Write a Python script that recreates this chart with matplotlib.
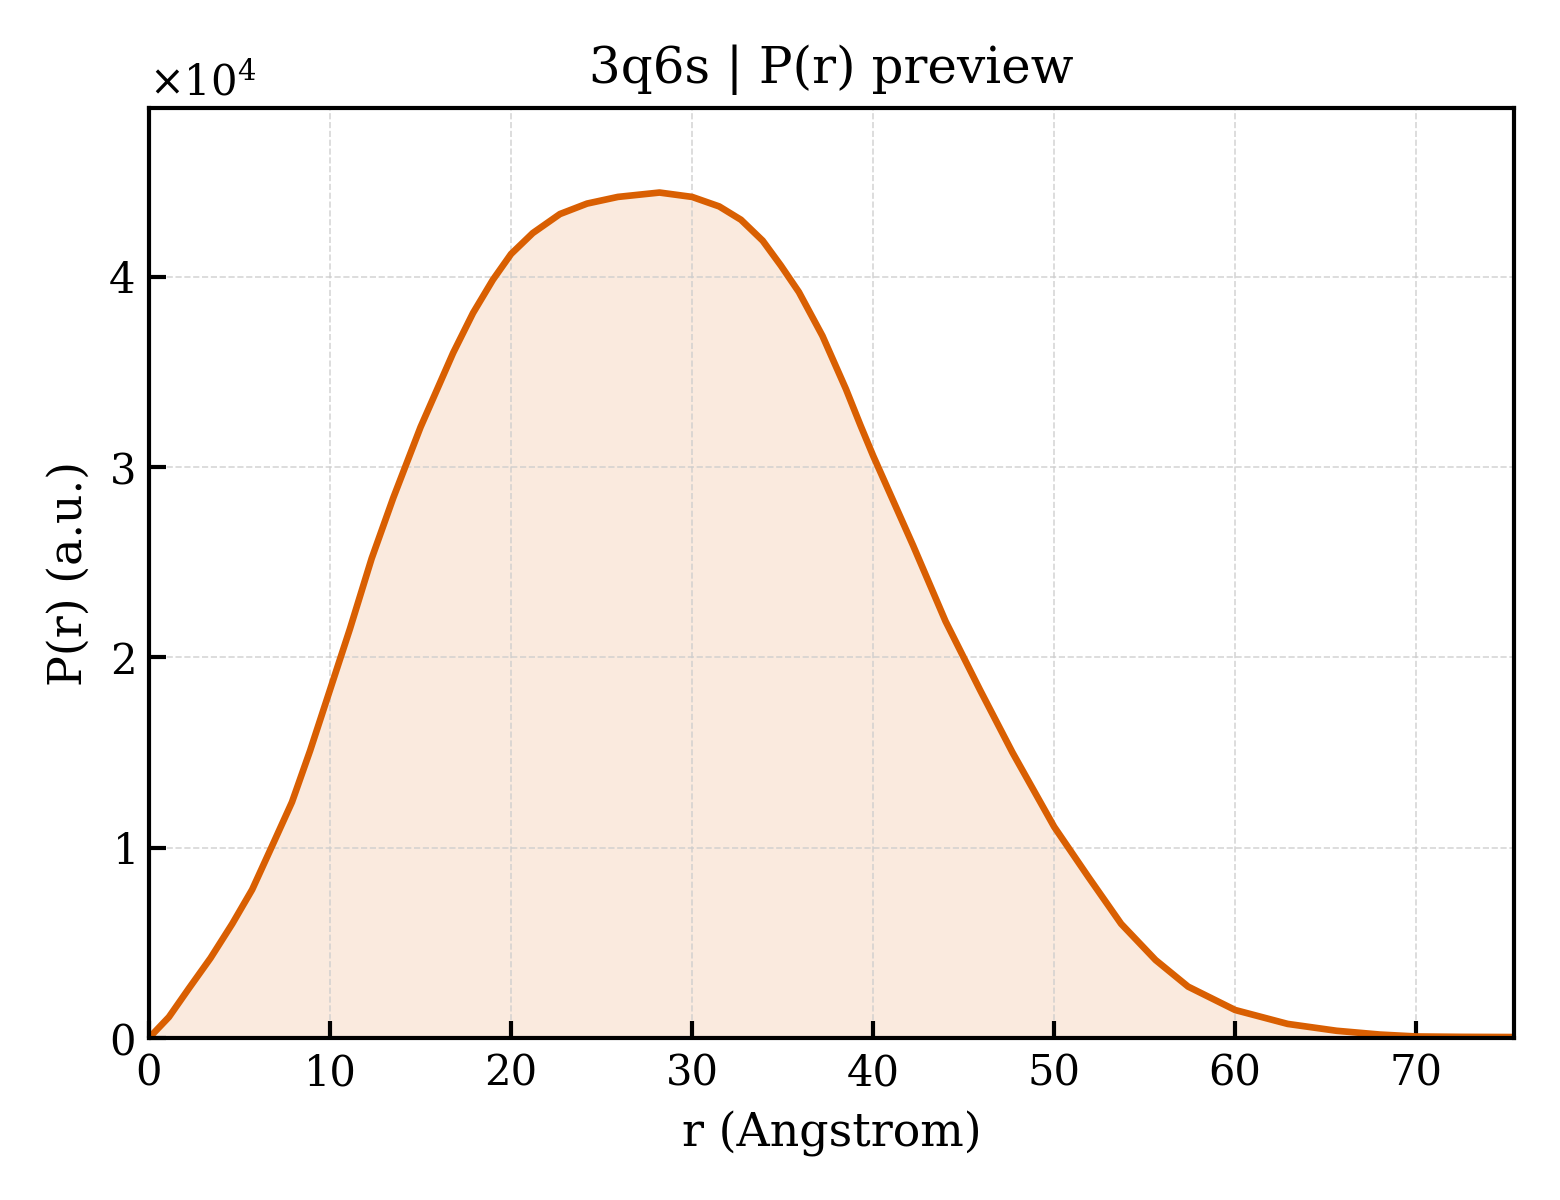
import matplotlib
matplotlib.use("Agg")
import matplotlib.pyplot as plt

# values (P in units of 1e4)
r_vals = [0, 1.1, 2.2, 3.4, 4.6, 5.7, 6.9, 7.9, 8.9, 10.0, 11.1, 12.3, 13.5,
          15.0, 16.8, 17.9, 19.0, 20.0, 21.2, 22.7, 24.2, 25.9, 28.2, 30.0,
          31.5, 32.7, 33.9, 34.9, 35.9, 37.2, 38.5, 39.3, 40.0, 42.2, 44.0,
          45.9, 47.7, 50.0, 51.9, 53.7, 55.6, 57.4, 60.0, 62.9, 65.6, 68.0,
          70.0, 72.5, 75.4]
p_vals = [0, 0.11, 0.26, 0.42, 0.60, 0.78, 1.03, 1.24, 1.51, 1.83, 2.15, 2.52,
          2.84, 3.21, 3.60, 3.81, 3.985, 4.12, 4.23, 4.33, 4.385, 4.42, 4.443,
          4.42, 4.37, 4.30, 4.19, 4.06, 3.92, 3.69, 3.41, 3.22, 3.06, 2.59,
          2.19, 1.83, 1.50, 1.11, 0.845, 0.60, 0.41, 0.27, 0.147, 0.074,
          0.038, 0.018, 0.008, 0.006, 0.005]
p_vals = [p * 1e4 for p in p_vals]

color = "#D95F02"

plt.rcParams["font.family"] = "DejaVu Serif"
plt.rcParams["mathtext.fontset"] = "dejavuserif"

fig, ax = plt.subplots(figsize=(5.2, 4), dpi=300)
fig.subplots_adjust(left=0.0955, right=0.9705, top=0.91, bottom=0.135)

ax.fill_between(r_vals, p_vals, 0, color=color, alpha=0.13, linewidth=0)
ax.plot(r_vals, p_vals, color=color, lw=1.6, solid_joinstyle="round")

ax.set_xlim(0, max(r_vals))
ax.set_ylim(0, max(p_vals) * 1.1)
ax.set_xlabel("r (Angstrom)", fontsize=11)
ax.set_ylabel("P(r) (a.u.)", fontsize=11)
ax.set_title("3q6s | P(r) preview", fontsize=12)

ax.ticklabel_format(axis="y", style="sci", scilimits=(0, 0), useMathText=True)
ax.tick_params(direction="in", length=4, width=1, labelsize=10)
ax.grid(True, ls="--", lw=0.4, color="#cccccc", alpha=0.8)
for s in ax.spines.values():
    s.set_linewidth(1.0)

fig.savefig("out.png", dpi=300)
